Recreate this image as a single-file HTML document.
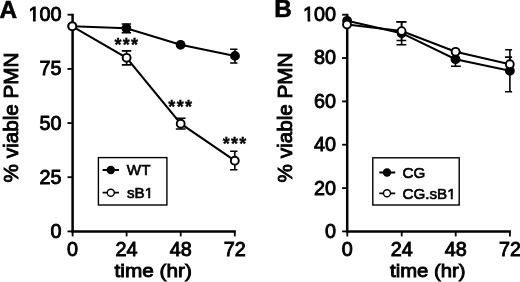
<!DOCTYPE html>
<html><head><meta charset="utf-8"><title>PMN viability</title>
<style>
html,body{margin:0;padding:0;background:#fff;}
svg{display:block;}
text{font-family:"Liberation Sans",Arial,Helvetica,sans-serif;fill:#000;}
.t{stroke:#000;stroke-width:0.9px;}
.l{stroke:#000;stroke-width:0.65px;}
.b{font-weight:bold;}
.bs{stroke:#000;stroke-width:0.6px;}
</style></head><body>
<svg width="520" height="282" viewBox="0 0 520 282">
<rect width="520" height="282" fill="#fff"/>

<g stroke="#000" fill="none" stroke-linecap="butt">
<path d="M72.6 13.799999999999999 V232.6" stroke-width="2.5"/>
<path d="M71.39999999999999 231.4 H235.8" stroke-width="2.5"/>
<path d="M67.5 14.7 H72.6" stroke-width="1.8"/>
<path d="M67.5 68.9 H72.6" stroke-width="1.8"/>
<path d="M67.5 123.1 H72.6" stroke-width="1.8"/>
<path d="M67.5 177.2 H72.6" stroke-width="1.8"/>
<path d="M67.5 231.4 H72.6" stroke-width="1.8"/>
<path d="M72.6 231.4 V236.4" stroke-width="1.8"/>
<path d="M126.6 231.4 V236.4" stroke-width="1.8"/>
<path d="M180.7 231.4 V236.4" stroke-width="1.8"/>
<path d="M234.8 231.4 V236.4" stroke-width="1.8"/>
</g>
<text class="t" x="61.5" y="21.1" font-size="19.8" text-anchor="end">100</text>
<path d="M28.42 18.37H32.94V22.65H28.42Z M35.69 18.37H40.06V22.65H35.69Z" fill="#fff"/>
<text class="t" x="61.5" y="75.3" font-size="19.8" text-anchor="end">75</text>
<text class="t" x="61.5" y="129.5" font-size="19.8" text-anchor="end">50</text>
<text class="t" x="61.5" y="183.6" font-size="19.8" text-anchor="end">25</text>
<text class="t" x="61.5" y="237.8" font-size="19.8" text-anchor="end">0</text>
<text class="t" x="72.6" y="256.4" font-size="19.8" text-anchor="middle">0</text>
<text class="t" x="126.6" y="256.4" font-size="19.8" text-anchor="middle">24</text>
<text class="t" x="180.7" y="256.4" font-size="19.8" text-anchor="middle">48</text>
<text class="t" x="234.8" y="256.4" font-size="19.8" text-anchor="middle">72</text>
<text class="t" transform="translate(153.2 277.4) scale(1.118 1)" font-size="18.6" text-anchor="middle">time (hr)</text>
<text class="t" transform="translate(17.8 117.5) rotate(-90)" font-size="20.7" text-anchor="middle">% viable PMN</text>
<text x="-0.4" y="17.5" font-size="24.3" class="b bs">A</text>
<path d="M72.3 26.3 L126.4 28.3 L180.6 44.8 L235.0 55.9" stroke="#000" stroke-width="2" fill="none"/>
<path d="M126.4 24.0 V32.7 M121.7 24.0 H131.1 M121.7 32.7 H131.1" stroke="#000" stroke-width="1.6" fill="none"/>
<path d="M235.0 49.2 V63.0 M230.1 49.2 H237.5 M230.1 63.0 H237.5" stroke="#000" stroke-width="1.6" fill="none"/>
<circle cx="72.3" cy="26.3" r="3.95" fill="#000" stroke="#000" stroke-width="1.9"/>
<circle cx="126.4" cy="28.3" r="3.95" fill="#000" stroke="#000" stroke-width="1.9"/>
<circle cx="180.6" cy="44.8" r="3.95" fill="#000" stroke="#000" stroke-width="1.9"/>
<circle cx="235.0" cy="55.9" r="3.95" fill="#000" stroke="#000" stroke-width="1.9"/>
<path d="M72.3 26.3 L126.6 57.8 L180.7 123.7 L234.8 160.7" stroke="#000" stroke-width="2" fill="none"/>
<path d="M126.6 50.9 V64.9 M121.8 50.9 H131.3 M121.8 64.9 H131.3" stroke="#000" stroke-width="1.6" fill="none"/>
<path d="M180.7 118.2 V129.0 M175.8 118.2 H185.6 M175.8 129.0 H185.6" stroke="#000" stroke-width="1.6" fill="none"/>
<path d="M234.8 151.3 V169.8 M230.1 151.3 H237.5 M230.1 169.8 H237.5" stroke="#000" stroke-width="1.6" fill="none"/>
<circle cx="72.3" cy="26.3" r="3.95" fill="#fff" stroke="#000" stroke-width="1.9"/>
<circle cx="126.6" cy="57.8" r="3.95" fill="#fff" stroke="#000" stroke-width="1.9"/>
<circle cx="180.7" cy="123.7" r="3.95" fill="#fff" stroke="#000" stroke-width="1.9"/>
<circle cx="234.8" cy="160.7" r="3.95" fill="#fff" stroke="#000" stroke-width="1.9"/>
<text x="126.9" y="50.8" font-size="18" class="b" stroke="#000" stroke-width="0.35" text-anchor="middle" letter-spacing="1.3">***</text>
<text x="180.8" y="112.5" font-size="18" class="b" stroke="#000" stroke-width="0.35" text-anchor="middle" letter-spacing="1.3">***</text>
<text x="235.1" y="149.7" font-size="18" class="b" stroke="#000" stroke-width="0.35" text-anchor="middle" letter-spacing="1.3">***</text>
<rect x="98.4" y="157.6" width="68.5" height="47.4" fill="#fff" stroke="#000" stroke-width="1.4"/>
<path d="M102.6 170 H119 M102.6 192.7 H119" stroke="#000" stroke-width="1.8"/>
<circle cx="110.8" cy="170" r="3.5" fill="#000" stroke="#000" stroke-width="1.4"/>
<circle cx="110.8" cy="192.7" r="3.5" fill="#fff" stroke="#000" stroke-width="1.4"/>
<text class="l" x="126.8" y="175.3" font-size="15.2">WT</text>
<text class="l" x="127" y="198" font-size="15.2">sB1</text>
<path d="M144.47 195.74H148.19V199.42H144.47Z M150.28 195.74H153.87V199.42H150.28Z" fill="#fff"/>
<g stroke="#000" fill="none" stroke-linecap="butt">
<path d="M347.2 13.799999999999999 V232.6" stroke-width="2.5"/>
<path d="M346.0 231.4 H510.9" stroke-width="2.5"/>
<path d="M342.1 14.7 H347.2" stroke-width="1.8"/>
<path d="M342.1 58.0 H347.2" stroke-width="1.8"/>
<path d="M342.1 101.4 H347.2" stroke-width="1.8"/>
<path d="M342.1 144.7 H347.2" stroke-width="1.8"/>
<path d="M342.1 188.1 H347.2" stroke-width="1.8"/>
<path d="M342.1 231.4 H347.2" stroke-width="1.8"/>
<path d="M347.3 231.4 V236.4" stroke-width="1.8"/>
<path d="M401.7 231.4 V236.4" stroke-width="1.8"/>
<path d="M455.7 231.4 V236.4" stroke-width="1.8"/>
<path d="M509.9 231.4 V236.4" stroke-width="1.8"/>
</g>
<text class="t" x="336.1" y="21.1" font-size="19.8" text-anchor="end">100</text>
<path d="M303.02 18.37H307.54V22.65H303.02Z M310.29 18.37H314.66V22.65H310.29Z" fill="#fff"/>
<text class="t" x="336.1" y="64.4" font-size="19.8" text-anchor="end">80</text>
<text class="t" x="336.1" y="107.8" font-size="19.8" text-anchor="end">60</text>
<text class="t" x="336.1" y="151.1" font-size="19.8" text-anchor="end">40</text>
<text class="t" x="336.1" y="194.5" font-size="19.8" text-anchor="end">20</text>
<text class="t" x="336.1" y="237.8" font-size="19.8" text-anchor="end">0</text>
<text class="t" x="347.3" y="256.4" font-size="19.8" text-anchor="middle">0</text>
<text class="t" x="401.7" y="256.4" font-size="19.8" text-anchor="middle">24</text>
<text class="t" x="455.7" y="256.4" font-size="19.8" text-anchor="middle">48</text>
<text class="t" x="509.9" y="256.4" font-size="19.8" text-anchor="middle">72</text>
<text class="t" transform="translate(427.7 277.4) scale(1.09 1)" font-size="18.6" text-anchor="middle">time (hr)</text>
<text class="t" transform="translate(292 117.5) rotate(-90)" font-size="20.7" text-anchor="middle">% viable PMN</text>
<text x="274.2" y="17.2" font-size="24.3" class="b bs">B</text>
<path d="M347.1 20.8 L401.6 33.2 L455.5 59.2 L509.9 70.8" stroke="#000" stroke-width="2" fill="none"/>
<path d="M401.6 21.7 V44.8 M396.5 21.7 H406.3 M396.5 44.8 H406.3" stroke="#000" stroke-width="1.6" fill="none"/>
<path d="M455.5 52.1 V66.3 M451.0 52.1 H460.8 M451.0 66.3 H460.8" stroke="#000" stroke-width="1.6" fill="none"/>
<path d="M509.9 49.8 V91.8 M505.1 49.8 H512.1 M505.1 91.8 H512.1" stroke="#000" stroke-width="1.6" fill="none"/>
<circle cx="347.1" cy="20.8" r="3.95" fill="#000" stroke="#000" stroke-width="1.9"/>
<circle cx="401.6" cy="33.2" r="3.95" fill="#000" stroke="#000" stroke-width="1.9"/>
<circle cx="455.5" cy="59.2" r="3.95" fill="#000" stroke="#000" stroke-width="1.9"/>
<circle cx="509.9" cy="70.8" r="3.95" fill="#000" stroke="#000" stroke-width="1.9"/>
<path d="M347.0 24.6 L401.6 31.1 L455.6 51.8 L509.8 64.2" stroke="#000" stroke-width="2" fill="none"/>
<path d="M401.6 21.9 V40.5 M396.5 21.9 H406.3 M396.5 40.5 H406.3" stroke="#000" stroke-width="1.6" fill="none"/>
<path d="M509.8 57.1 V71.3 M505.0 57.1 H512.0 M505.0 71.3 H512.0" stroke="#000" stroke-width="1.6" fill="none"/>
<circle cx="347.0" cy="24.6" r="3.95" fill="#fff" stroke="#000" stroke-width="1.9"/>
<circle cx="401.6" cy="31.1" r="3.95" fill="#fff" stroke="#000" stroke-width="1.9"/>
<circle cx="455.6" cy="51.8" r="3.95" fill="#fff" stroke="#000" stroke-width="1.9"/>
<circle cx="509.8" cy="64.2" r="3.95" fill="#fff" stroke="#000" stroke-width="1.9"/>
<rect x="372.8" y="157.8" width="86.4" height="47.2" fill="#fff" stroke="#000" stroke-width="1.4"/>
<path d="M379.3 172.5 H395.2 M379.3 193.3 H395.2" stroke="#000" stroke-width="1.8"/>
<circle cx="387" cy="172.5" r="3.5" fill="#000" stroke="#000" stroke-width="1.4"/>
<circle cx="387" cy="193.3" r="3.5" fill="#fff" stroke="#000" stroke-width="1.4"/>
<text class="l" x="402.5" y="178" font-size="15.2">CG</text>
<text class="l" x="402.5" y="198.8" font-size="15.2">CG.sB1</text>
<path d="M446.99 196.54H450.71V200.22H446.99Z M452.80 196.54H456.40V200.22H452.80Z" fill="#fff"/>
</svg></body></html>
